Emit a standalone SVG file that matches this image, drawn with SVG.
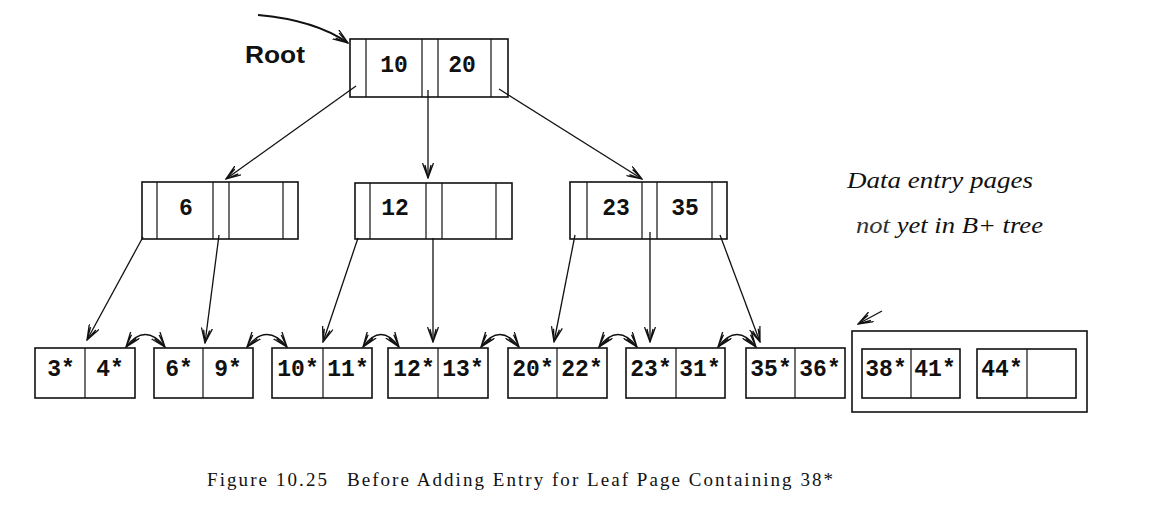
<svg xmlns="http://www.w3.org/2000/svg" width="1172" height="510" viewBox="0 0 1172 510">
<style>
.box{fill:none;stroke:#111;stroke-width:1.6}
.ln{stroke:#111;stroke-width:1.2}
.num{font-family:"Liberation Mono","DejaVu Sans Mono",monospace;font-weight:bold;font-size:23px;fill:#111;text-anchor:middle}
.ptr{fill:none;stroke:#111;stroke-width:1.3}
.it{font-family:"Liberation Serif","Times New Roman",serif;font-style:italic;font-size:23px;fill:#111}
.cap{font-family:"Liberation Serif","Times New Roman",serif;font-size:19px;fill:#111}
</style>
<defs>
<marker id="ah" viewBox="0 0 16 12" refX="15" refY="6" markerWidth="16" markerHeight="12" markerUnits="userSpaceOnUse" orient="auto-start-reverse">
<path d="M0,0.5 L15,6 L0,11.5 M2,3 L15,6 L2,9" fill="none" stroke="#111" stroke-width="1.3"/>
</marker>
</defs>
<rect width="1172" height="510" fill="#fff"/>

<text x="245" y="63" font-family="Liberation Sans,Arial,sans-serif" font-weight="bold" font-size="23" textLength="60" lengthAdjust="spacingAndGlyphs" fill="#111">Root</text>

<g id="root">
<rect class="box" x="350" y="39" width="158" height="58"/>
<line class="ln" x1="366" y1="39" x2="366" y2="97"/>
<line class="ln" x1="422" y1="39" x2="422" y2="97"/>
<line class="ln" x1="438" y1="39" x2="438" y2="97"/>
<line class="ln" x1="491" y1="39" x2="491" y2="97"/>
<text class="num" x="394" y="72">10</text>
<text class="num" x="462" y="72">20</text>
</g>

<g id="n6">
<rect class="box" x="142" y="182" width="156" height="57"/>
<line class="ln" x1="157" y1="182" x2="157" y2="239"/>
<line class="ln" x1="213" y1="182" x2="213" y2="239"/>
<line class="ln" x1="229" y1="182" x2="229" y2="239"/>
<line class="ln" x1="283" y1="182" x2="283" y2="239"/>
<text class="num" x="186" y="215">6</text>
</g>

<g id="n12">
<rect class="box" x="355" y="183" width="157" height="56"/>
<line class="ln" x1="370" y1="183" x2="370" y2="239"/>
<line class="ln" x1="426" y1="183" x2="426" y2="239"/>
<line class="ln" x1="442" y1="183" x2="442" y2="239"/>
<line class="ln" x1="496" y1="183" x2="496" y2="239"/>
<text class="num" x="395" y="215">12</text>
</g>

<g id="n23">
<rect class="box" x="570" y="182" width="157" height="57"/>
<line class="ln" x1="587" y1="182" x2="587" y2="239"/>
<line class="ln" x1="642" y1="182" x2="642" y2="239"/>
<line class="ln" x1="657" y1="182" x2="657" y2="239"/>
<line class="ln" x1="712" y1="182" x2="712" y2="239"/>
<text class="num" x="616" y="215">23</text>
<text class="num" x="685" y="215">35</text>
</g>

<g id="leaf1"><rect class="box" x="35" y="348" width="100" height="50"/><line class="ln" x1="85" y1="348" x2="85" y2="398"/><text class="num" x="61" y="376">3*</text><text class="num" x="110" y="376">4*</text></g>
<g id="leaf2"><rect class="box" x="154" y="348" width="99" height="50"/><line class="ln" x1="203" y1="348" x2="203" y2="398"/><text class="num" x="179" y="376">6*</text><text class="num" x="228" y="376">9*</text></g>
<g id="leaf3"><rect class="box" x="272" y="348" width="100" height="50"/><line class="ln" x1="323" y1="348" x2="323" y2="398"/><text class="num" x="298" y="376">10*</text><text class="num" x="348" y="376">11*</text></g>
<g id="leaf4"><rect class="box" x="388" y="348" width="100" height="50"/><line class="ln" x1="438" y1="348" x2="438" y2="398"/><text class="num" x="414" y="376">12*</text><text class="num" x="463" y="376">13*</text></g>
<g id="leaf5"><rect class="box" x="508" y="348" width="99" height="50"/><line class="ln" x1="557" y1="348" x2="557" y2="398"/><text class="num" x="533" y="376">20*</text><text class="num" x="582" y="376">22*</text></g>
<g id="leaf6"><rect class="box" x="626" y="348" width="99" height="50"/><line class="ln" x1="676" y1="348" x2="676" y2="398"/><text class="num" x="651" y="376">23*</text><text class="num" x="700" y="376">31*</text></g>
<g id="leaf7"><rect class="box" x="746" y="348" width="99" height="50"/><line class="ln" x1="795" y1="348" x2="795" y2="398"/><text class="num" x="771" y="376">35*</text><text class="num" x="820" y="376">36*</text></g>

<g id="pending">
<rect class="box" x="852" y="331" width="235" height="81"/>
<rect class="box" x="862" y="349" width="98" height="49"/><line class="ln" x1="911" y1="349" x2="911" y2="398"/>
<text class="num" x="886" y="376">38*</text><text class="num" x="935" y="376">41*</text>
<rect class="box" x="977" y="349" width="99" height="49"/><line class="ln" x1="1027" y1="349" x2="1027" y2="398"/>
<text class="num" x="1002" y="376">44*</text>
</g>

<g id="label">
<text class="it" x="847" y="188" textLength="186" lengthAdjust="spacingAndGlyphs">Data entry pages</text>
<text class="it" x="856" y="233" textLength="187" lengthAdjust="spacingAndGlyphs"><tspan fill="#333">not</tspan> yet in B+ tree</text>
</g>

<g id="connectors" class="ptr">
<path d="M258,15 Q315,20 348,43" stroke-width="2" marker-end="url(#ah)"/>
<line x1="356" y1="86" x2="226" y2="179" marker-end="url(#ah)"/>
<line x1="428" y1="90" x2="428" y2="178" marker-end="url(#ah)"/>
<line x1="499" y1="89" x2="642" y2="179" marker-end="url(#ah)"/>
<line x1="143" y1="237" x2="87" y2="340" marker-end="url(#ah)"/>
<line x1="219" y1="235" x2="205" y2="343" marker-end="url(#ah)"/>
<line x1="358" y1="238" x2="323" y2="342" marker-end="url(#ah)"/>
<line x1="433" y1="238" x2="433" y2="342" marker-end="url(#ah)"/>
<line x1="575" y1="235" x2="554" y2="342" marker-end="url(#ah)"/>
<line x1="650" y1="232" x2="650" y2="342" marker-end="url(#ah)"/>
<line x1="720" y1="235" x2="760" y2="342" marker-end="url(#ah)"/>
<path d="M126,347 Q145,322 165,347" marker-start="url(#ah)" marker-end="url(#ah)"/>
<path d="M247,347 Q267,322 287,347" marker-start="url(#ah)" marker-end="url(#ah)"/>
<path d="M363,347 Q381,322 399,347" marker-start="url(#ah)" marker-end="url(#ah)"/>
<path d="M481,347 Q500,322 519,347" marker-start="url(#ah)" marker-end="url(#ah)"/>
<path d="M599,347 Q618,322 637,347" marker-start="url(#ah)" marker-end="url(#ah)"/>
<path d="M718,347 Q737,322 756,347" marker-start="url(#ah)" marker-end="url(#ah)"/>
<line x1="882" y1="311" x2="858" y2="324" marker-end="url(#ah)"/>
</g>

<text class="cap" x="207" y="486" textLength="120" lengthAdjust="spacing">Figure 10.25</text>
<text class="cap" x="347" y="486" textLength="486" lengthAdjust="spacing">Before Adding Entry for Leaf Page Containing 38*</text>
</svg>
